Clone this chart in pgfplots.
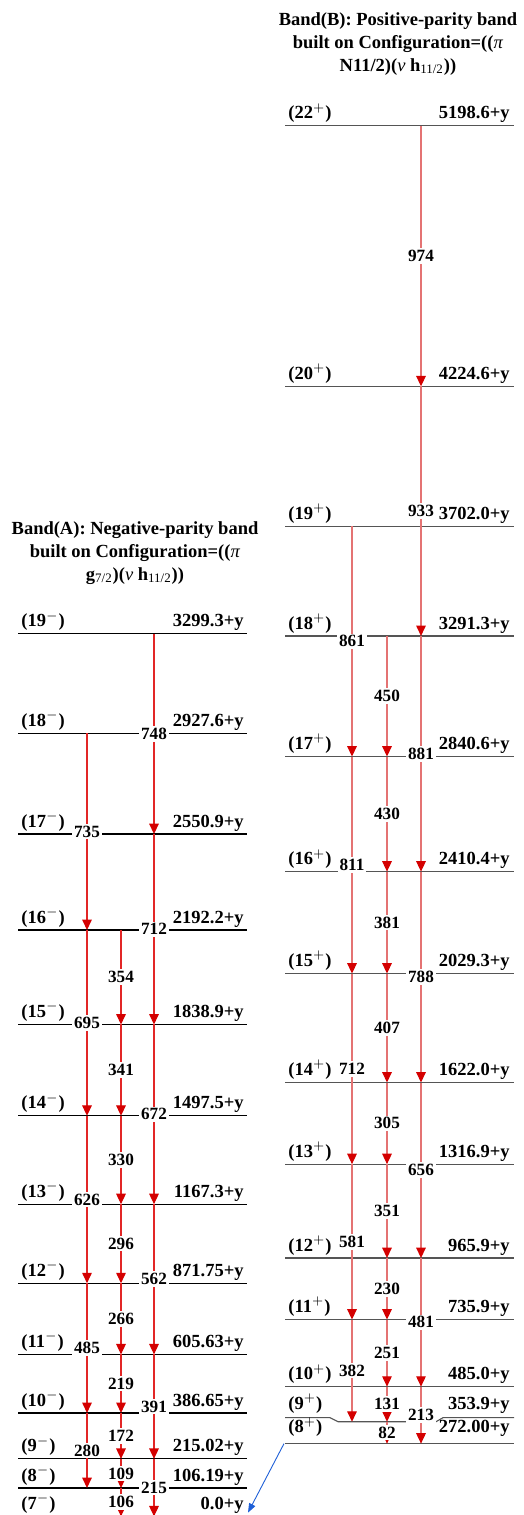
\documentclass[border=0pt]{standalone}
\usepackage{pgfplots}
\pgfplotsset{compat=1.18}
\usepackage{pgfplotstable}
\usepackage{fontspec}
\setmainfont{Liberation Serif}
\usetikzlibrary{arrows.meta}

\definecolor{lineA}{RGB}{226,38,38}
\definecolor{lineB}{RGB}{228,115,115}
\definecolor{tipred}{RGB}{212,0,0}
\definecolor{levB}{RGB}{85,85,85}
\definecolor{feed}{RGB}{30,95,215}

\newcommand\lvfont{\fontsize{9.25}{11.5}\selectfont\bfseries}
\newcommand\trfont{\fontsize{8.6}{9.5}\selectfont\bfseries}

% Band (A): level energy, spin, energy label
\pgfplotstableread{
E J En
3299.3 19 3299.3+y
2927.6 18 2927.6+y
2550.9 17 2550.9+y
2192.2 16 2192.2+y
1838.9 15 1838.9+y
1497.5 14 1497.5+y
1167.3 13 1167.3+y
871.75 12 871.75+y
605.63 11 605.63+y
386.65 10 386.65+y
215.02 9 215.02+y
106.19 8 106.19+y
0.0 7 0.0+y
}\levA

% Band (B): level energy, spin, energy label, label baseline, line length
\pgfplotstableread{
E J En L w
5198.6 22 5198.6+y 5224.6 229
4224.6 20 4224.6+y 4250.6 229
3702.0 19 3702.0+y 3728.0 229
3291.3 18 3291.3+y 3317.3 229
2840.6 17 2840.6+y 2866.6 229
2410.4 16 2410.4+y 2436.4 229
2029.3 15 2029.3+y 2055.3 229
1622.0 14 1622.0+y 1648.0 229
1316.9 13 1316.9+y 1342.9 229
965.9 12 965.9+y 991.9 229
735.9 11 735.9+y 761.9 229
485.0 10 485.0+y 511.0 229
353.9 9 353.9+y 400.0 0
272.00 8 272.00+y 312.0 229
}\levB

% Band (A) gamma transitions: column, initial and final level, energy
\pgfplotstableread{
x Ei Ef lab
154 3299.3 2550.9 748
154 2550.9 1838.9 712
154 1838.9 1167.3 672
154 1167.3 605.63 562
154 605.63 215.02 391
154 215.02 0.0 215
87 2927.6 2192.2 735
87 2192.2 1497.5 695
87 1497.5 871.75 626
87 871.75 386.65 485
87 386.65 106.19 280
121 2192.2 1838.9 354
121 1838.9 1497.5 341
121 1497.5 1167.3 330
121 1167.3 871.75 296
121 871.75 605.63 266
121 605.63 386.65 219
121 386.65 215.02 172
121 215.02 106.19 109
121 106.19 0.0 106
}\trA

% Band (B) gamma transitions
\pgfplotstableread{
x Ei Ef lab
421 5198.6 4224.6 974
421 4224.6 3291.3 933
421 3291.3 2410.4 881
421 2410.4 1622.0 788
421 1622.0 965.9 656
421 965.9 485.0 481
421 485.0 272.0 213
352 3702.0 2840.6 861
352 2840.6 2029.3 811
352 2029.3 1316.9 712
352 1316.9 735.9 581
352 735.9 353.9 382
387 3291.3 2840.6 450
387 2840.6 2410.4 430
387 2410.4 2029.3 381
387 2029.3 1622.0 407
387 1622.0 1316.9 305
387 1316.9 965.9 351
387 965.9 735.9 230
387 735.9 485.0 251
387 485.0 353.9 131
387 353.9 272.0 82
}\trB

\begin{document}
\begin{tikzpicture}
\begin{axis}[hide axis, scale only axis, width=262pt, height=757.5pt,
  xmin=0, xmax=524, ymin=5.2, ymax=5668.8]
\path (rel axis cs:0,0) rectangle (rel axis cs:1,1);

% level lines
\addplot[black, line width=0.55pt, quiver={u=229, v=0}]
  table[x expr=18, y=E] {\levA};
\addplot[levB, line width=0.55pt, quiver={u=\thisrow{w}, v=0}]
  table[x expr=285, y=E] {\levB};
\addplot[levB, line width=0.55pt]
  coordinates {(285,369) (330,369) (338,353.9) (436,353.9) (443,369) (514,369)};

% transitions
\addplot[lineA, line width=0.55pt, -{Triangle[width=4.8pt,length=5.2pt,color=tipred]},
  quiver={u=0, v=\thisrow{Ef}-\thisrow{Ei}}]
  table[x=x, y=Ei] {\trA};
\addplot[lineB, line width=0.55pt, -{Triangle[width=4.8pt,length=5.2pt,color=tipred]},
  quiver={u=0, v=\thisrow{Ef}-\thisrow{Ei}}]
  table[x=x, y=Ei] {\trB};

% feeding link between the bands
\addplot[feed, line width=0.45pt, -{Triangle[width=3.4pt,length=4.6pt]}]
  coordinates {(284,272) (248,14)};

% transition energies
\addplot[draw=none, nodes near coords, point meta=explicit symbolic,
  every node near coord/.append style={anchor=center, fill=white, inner sep=1pt, font=\trfont}]
  table[x=x, y expr=(\thisrow{Ei}+\thisrow{Ef})/2, meta=lab] {\trA};
\addplot[draw=none, nodes near coords, point meta=explicit symbolic,
  every node near coord/.append style={anchor=center, fill=white, inner sep=1pt, font=\trfont}]
  table[x=x, y expr=(\thisrow{Ei}+\thisrow{Ef})/2, meta=lab] {\trB};

% spin and energy labels
\addplot[draw=none, nodes near coords={(\pgfplotspointmeta$^{-}$)}, point meta=explicit symbolic,
  every node near coord/.append style={anchor=base west, inner sep=0pt, font=\lvfont}]
  table[x expr=21, y expr=\thisrow{E}+26, meta=J] {\levA};
\addplot[draw=none, nodes near coords, point meta=explicit symbolic,
  every node near coord/.append style={anchor=base east, inner sep=0pt, font=\lvfont}]
  table[x expr=244, y expr=\thisrow{E}+26, meta=En] {\levA};
\addplot[draw=none, nodes near coords={(\pgfplotspointmeta$^{+}$)}, point meta=explicit symbolic,
  every node near coord/.append style={anchor=base west, inner sep=0pt, font=\lvfont}]
  table[x expr=288, y=L, meta=J] {\levB};
\addplot[draw=none, nodes near coords, point meta=explicit symbolic,
  every node near coord/.append style={anchor=base east, inner sep=0pt, font=\lvfont}]
  table[x expr=510, y=L, meta=En] {\levB};

% band titles
\node[anchor=north, align=center, inner sep=0pt, font=\lvfont] at (axis cs:135,3721)
  {Band(A): Negative-parity band\\built on Configuration=((\textit{\mdseries π}\\
   g\textsubscript{\mdseries 7/2})(\textit{\mdseries ν} h\textsubscript{\mdseries 11/2}))};
\node[anchor=north, align=center, inner sep=0pt, font=\lvfont] at (axis cs:398,5624)
  {Band(B): Positive-parity band\\built on Configuration=((\textit{\mdseries π}\\
   N11/2)(\textit{\mdseries ν} h\textsubscript{\mdseries 11/2}))};
\end{axis}
\end{tikzpicture}
\end{document}
